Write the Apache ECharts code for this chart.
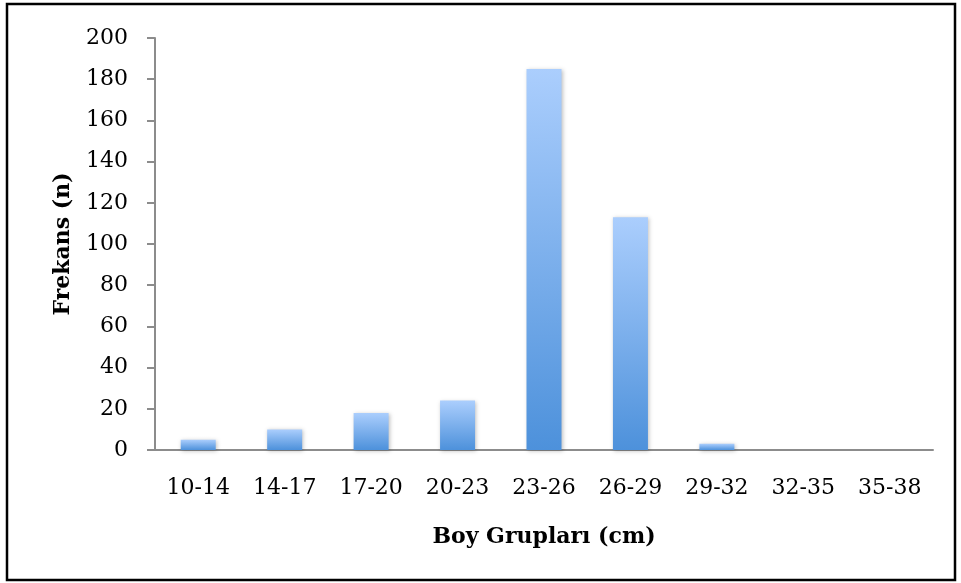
<!DOCTYPE html>
<html><head><meta charset="utf-8">
<script src="https://cdn.jsdelivr.net/npm/echarts@6/dist/echarts.min.js"></script>
<style>html,body{margin:0;padding:0;background:#fff}#c{width:961px;height:583px}</style>
</head><body><div id="c"></div>
<script>
const categories = ["10-14","14-17","17-20","20-23","23-26","26-29","29-32","32-35","35-38"];
const frequencies = [5, 10, 18, 24, 185, 113, 3, 0, 0];
const xTitle = "Boy Grupları (cm)";
const yTitle = "Frekans (n)";

const chart = echarts.init(document.getElementById('c'), null, {renderer:'canvas'});
const serif = "DejaVu Serif";
chart.setOption({
  animation:false,
  backgroundColor:'#fff',
  graphic:[{type:'rect',shape:{x:7,y:4,width:948,height:576},style:{fill:'none',stroke:'#000',lineWidth:2.5},z:-1}],
  grid:{left:155,right:28,top:38,bottom:133},
  xAxis:{type:'category',data:categories,
    name:xTitle,nameLocation:'middle',nameGap:76,
    nameTextStyle:{fontFamily:serif,fontWeight:'bold',fontSize:22,color:'#000'},
    axisLine:{lineStyle:{color:'#8c8c8c',width:2}},
    axisTick:{alignWithLabel:false,length:8,lineStyle:{color:'#8c8c8c',width:2}},
    axisLabel:{fontFamily:serif,fontSize:22,color:'#000',margin:27}},
  yAxis:{type:'value',min:0,max:200,interval:20,
    name:yTitle,nameLocation:'middle',nameGap:81,
    nameTextStyle:{fontFamily:serif,fontWeight:'bold',fontSize:22,color:'#000'},
    axisLine:{show:true,lineStyle:{color:'#8c8c8c',width:2}},
    axisTick:{show:true,length:8,lineStyle:{color:'#8c8c8c',width:2}},
    splitLine:{show:false},
    axisLabel:{fontFamily:serif,fontSize:22,color:'#000',margin:27,padding:[7,0,0,0]}},
  series:[{type:'bar',data:frequencies,barWidth:35,
    itemStyle:{color:new echarts.graphic.LinearGradient(0,0,0,1,[{offset:0,color:'#abcefd'},{offset:1,color:'#4d91db'}]),
      shadowColor:'rgba(0,0,0,0.25)',shadowBlur:4,shadowOffsetX:1,shadowOffsetY:1}}]
});
</script></body></html>
